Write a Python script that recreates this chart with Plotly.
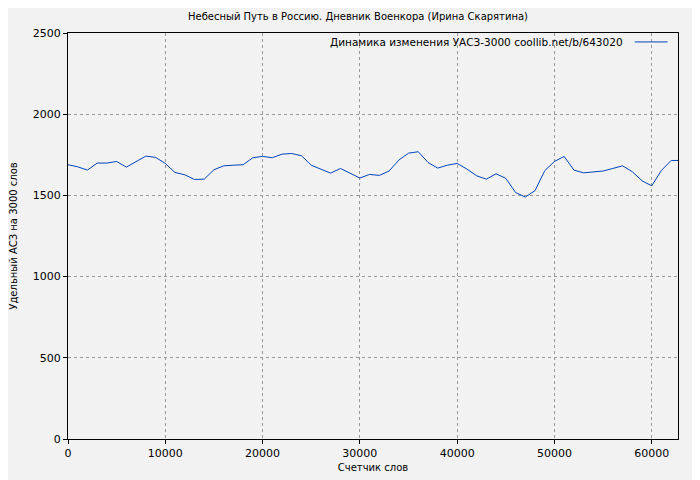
import plotly.graph_objects as go

words = [i * 1000 for i in range(63)] + [63000]
values = [1689, 1676, 1656, 1699, 1699, 1709, 1674, 1707, 1742, 1734,
          1697, 1641, 1627, 1598, 1600, 1658, 1682, 1686, 1689, 1732,
          1740, 1732, 1754, 1758, 1744, 1686, 1662, 1637, 1666, 1635,
          1607, 1629, 1623, 1650, 1717, 1760, 1769, 1703, 1668, 1686,
          1697, 1662, 1621, 1600, 1633, 1605, 1518, 1490, 1529, 1652,
          1709, 1740, 1656, 1639, 1644, 1650, 1666, 1682, 1646, 1590,
          1559, 1654, 1715, 1715]

title = "Небесный Путь в Россию. Дневник Военкора (Ирина Скарятина)"
legend_text = "Динамика изменения УАСЗ-3000 coollib.net/b/643020"

fig = go.Figure(go.Scatter(x=words, y=values, mode="lines",
                           line=dict(color="#0044bb", width=1), showlegend=False))
fig.update_layout(
    width=700, height=480,
    paper_bgcolor="#f2f2f2", plot_bgcolor="#f2f2f2",
    margin=dict(l=60, r=30, t=25, b=49, autoexpand=False),
    font=dict(family="DejaVu Sans", size=11, color="#000"),
    title=dict(text=title, x=0.5, xanchor="center", y=0.983, yanchor="middle",
               font=dict(size=10), automargin=False),
)
grid = dict(showgrid=True, gridcolor="#999", griddash="dot", gridwidth=1,
            showline=True, linecolor="#000", linewidth=1, mirror=True,
            ticks="outside", ticklen=4, tickcolor="#000", zeroline=False,
            automargin=False, tickformat="d")
fig.update_xaxes(range=[0, 62700], dtick=10000, title=dict(text="Счетчик слов", standoff=4, font=dict(size=10)), **grid)
fig.update_yaxes(range=[0, 2500], dtick=500, title=dict(text="Удельный АСЗ на 3000 слов", standoff=17, font=dict(size=10)), **grid)
fig.add_annotation(xref="paper", yref="paper", x=0.913, y=0.978, xanchor="right", yanchor="middle",
                   text=legend_text, showarrow=False, font=dict(size=10.5))
fig.add_shape(type="line", xref="paper", yref="paper", x0=0.929, x1=0.983, y0=0.978, y1=0.978,
              line=dict(color="#0044bb", width=1))
fig.write_html("out.html")
